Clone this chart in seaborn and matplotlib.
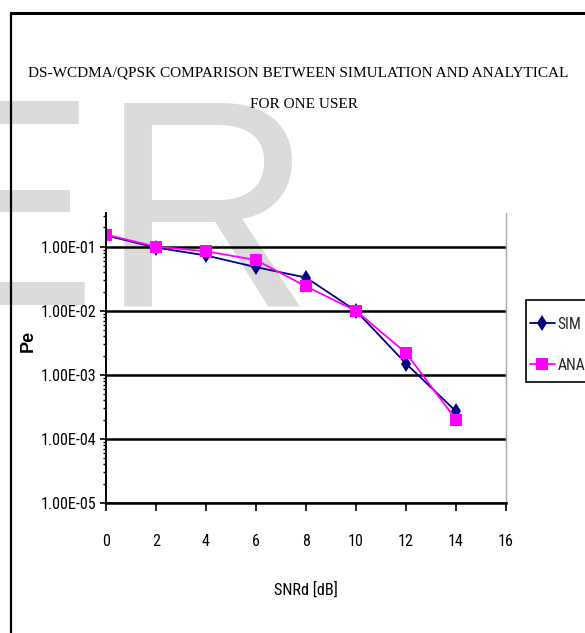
import numpy as np
import pandas as pd
import matplotlib
matplotlib.use("Agg")
import matplotlib.pyplot as plt
from matplotlib import font_manager as fm
from matplotlib.font_manager import FontProperties
from matplotlib.textpath import TextPath
from matplotlib.ticker import FixedLocator, FuncFormatter, LogLocator, NullFormatter
from matplotlib.lines import Line2D
from matplotlib.patches import Rectangle
import seaborn as sns

# ---------------- data ----------------
snr_db = [0, 2, 4, 6, 8, 10, 12, 14]
pe_sim = [0.150, 0.097, 0.073, 0.048, 0.033, 0.0100, 0.0015, 0.00027]
pe_ana = [0.155, 0.100, 0.085, 0.062, 0.024, 0.0100, 0.0022, 0.00020]
series_names = ["SIM", "ANA"]
y_tick_values = [1e-5, 1e-4, 1e-3, 1e-2, 1e-1]
x_tick_values = [0, 2, 4, 6, 8, 10, 12, 14, 16]
title_lines = ["DS-WCDMA/QPSK COMPARISON BETWEEN SIMULATION AND ANALYTICAL",
               "FOR ONE USER"]
x_label = "SNRd [dB]"
y_label = "Pe"
watermark = ["E", "R"]

df = pd.DataFrame({
    "snr": snr_db * 2,
    "pe": pe_sim + pe_ana,
    "series": [series_names[0]] * len(snr_db) + [series_names[1]] * len(snr_db),
})

sns.set_theme(style="white")
names = {f.name for f in fm.fontManager.ttflist}
narrow = next((n for n in ["Roboto Condensed", "Archivo Narrow", "PT Sans Narrow",
                           "Liberation Sans"] if n in names), "DejaVu Sans")
nfam = [narrow, "DejaVu Sans"]
plt.rcParams["font.family"] = nfam

def fit_size(text, fam, target_px, weight="normal"):
    fp = FontProperties(family=fam, size=10, weight=weight)
    w = TextPath((0, 0), text, prop=fp).get_extents().width * 100 / 72
    return 10 * target_px / w

tick_size = fit_size("1.00E-01", nfam, 52)
xlab_size = fit_size(x_label, nfam, 62)
leg_size = fit_size("SIM", nfam, 22)
title_size = fit_size(title_lines[0], ["Liberation Serif", "DejaVu Serif"], 540)

W, H = 585, 633
fig = plt.figure(figsize=(W / 100, H / 100), dpi=100)
fig.patch.set_facecolor("white")

def fx(px):
    return px / W

def fy(py):
    return 1 - py / H

# watermark
wfam = ["Liberation Sans", "DejaVu Sans"]
fig.text(fx(97), fy(305), watermark[0], fontsize=213, color="#dadada",
         family=wfam, ha="right", va="baseline", zorder=-10)
fig.text(fx(100), fy(305), watermark[1], fontsize=213, color="#dadada",
         family=wfam, ha="left", va="baseline", zorder=-10)

# border lines
fig.add_artist(Line2D([fx(11), fx(11)], [fy(13), 0], color="black", lw=1.6, transform=fig.transFigure))
fig.add_artist(Line2D([fx(11), 1], [fy(13), fy(13)], color="black", lw=2.2, transform=fig.transFigure))

ax_left, ax_right, ax_top, ax_bottom = 106, 506, 213, 503
ax = fig.add_axes([fx(ax_left), fy(ax_bottom), (ax_right - ax_left) / W, (ax_bottom - ax_top) / H])
ax.patch.set_alpha(0)

sns.lineplot(data=df, x="snr", y="pe", hue="series", style="series",
             palette={"SIM": "#000080", "ANA": "#FF00FF"},
             markers={"SIM": "d", "ANA": "s"}, dashes=False,
             markersize=8, linewidth=1.3, markeredgewidth=0, ax=ax)
ax.set_yscale("log")
ax.set_xlim(0, 16)
ax.set_ylim(1e-5, 0.336)

ax.yaxis.set_major_locator(FixedLocator(y_tick_values))
ax.yaxis.set_major_formatter(FuncFormatter(lambda v, p: f"{v:.2E}"))
ax.yaxis.set_minor_locator(LogLocator(base=10, subs=np.arange(2, 10), numticks=20))
ax.yaxis.set_minor_formatter(NullFormatter())
ax.xaxis.set_major_locator(FixedLocator(x_tick_values))
ax.xaxis.set_major_formatter(FuncFormatter(lambda v, p: f"{int(v)}"))

ax.yaxis.grid(True, which="major", color="black", lw=1.8)
ax.xaxis.grid(False)
ax.set_axisbelow(True)

ax.spines["top"].set_visible(False)
ax.spines["left"].set_color("black")
ax.spines["left"].set_linewidth(1.4)
ax.spines["bottom"].set_color("black")
ax.spines["bottom"].set_linewidth(1.8)
ax.spines["right"].set_color("#a8a8a8")
ax.spines["right"].set_linewidth(1.0)

ax.tick_params(axis="y", which="major", direction="out", length=4, width=1.2, color="black",
               left=True, pad=3, labelsize=tick_size, labelcolor="black")
ax.tick_params(axis="y", which="minor", direction="out", length=2.5, width=1.0, color="black", left=True)
ax.tick_params(axis="x", which="major", direction="out", length=6, width=1.2, color="black",
               bottom=True, pad=16, labelsize=tick_size, labelcolor="black")

ax.set_xlabel(x_label, fontsize=xlab_size, color="black")
ax.xaxis.label.set_va("center")
ax.xaxis.set_label_coords((306 - ax_left) / (ax_right - ax_left), (ax_bottom - 590) / (ax_bottom - ax_top))
ax.set_ylabel(y_label, fontsize=13, fontweight="bold", color="black", family=wfam)
ax.yaxis.label.set_va("center")
ax.yaxis.set_label_coords((28 - ax_left) / (ax_right - ax_left), (ax_bottom - 341) / (ax_bottom - ax_top))

# title
tfam = ["Liberation Serif", "DejaVu Serif"]
fig.text(fx(298), fy(73), title_lines[0], fontsize=title_size, family=tfam, ha="center", va="center", color="black")
fig.text(fx(304), fy(104), title_lines[1], fontsize=title_size, family=tfam, ha="center", va="center", color="black")

# legend (frame drawn as its own box, entries placed inside it)
handles, labels = ax.get_legend_handles_labels()
if ax.get_legend() is not None:
    ax.get_legend().remove()
fig.add_artist(Rectangle((fx(526), fy(382)), fx(600) - fx(526), fy(300) - fy(382),
                         transform=fig.transFigure, facecolor="white", edgecolor="black",
                         lw=1.2, zorder=4))
leg = fig.legend(handles, labels, loc="upper left", bbox_to_anchor=(fx(526), fy(313)),
                 bbox_transform=fig.transFigure, frameon=False,
                 borderaxespad=0, borderpad=0.25, handlelength=1.6,
                 handleheight=1.0, handletextpad=0.15, labelspacing=1.65, fontsize=leg_size)
leg.set_zorder(5)

fig.savefig("out.png", dpi=100)
